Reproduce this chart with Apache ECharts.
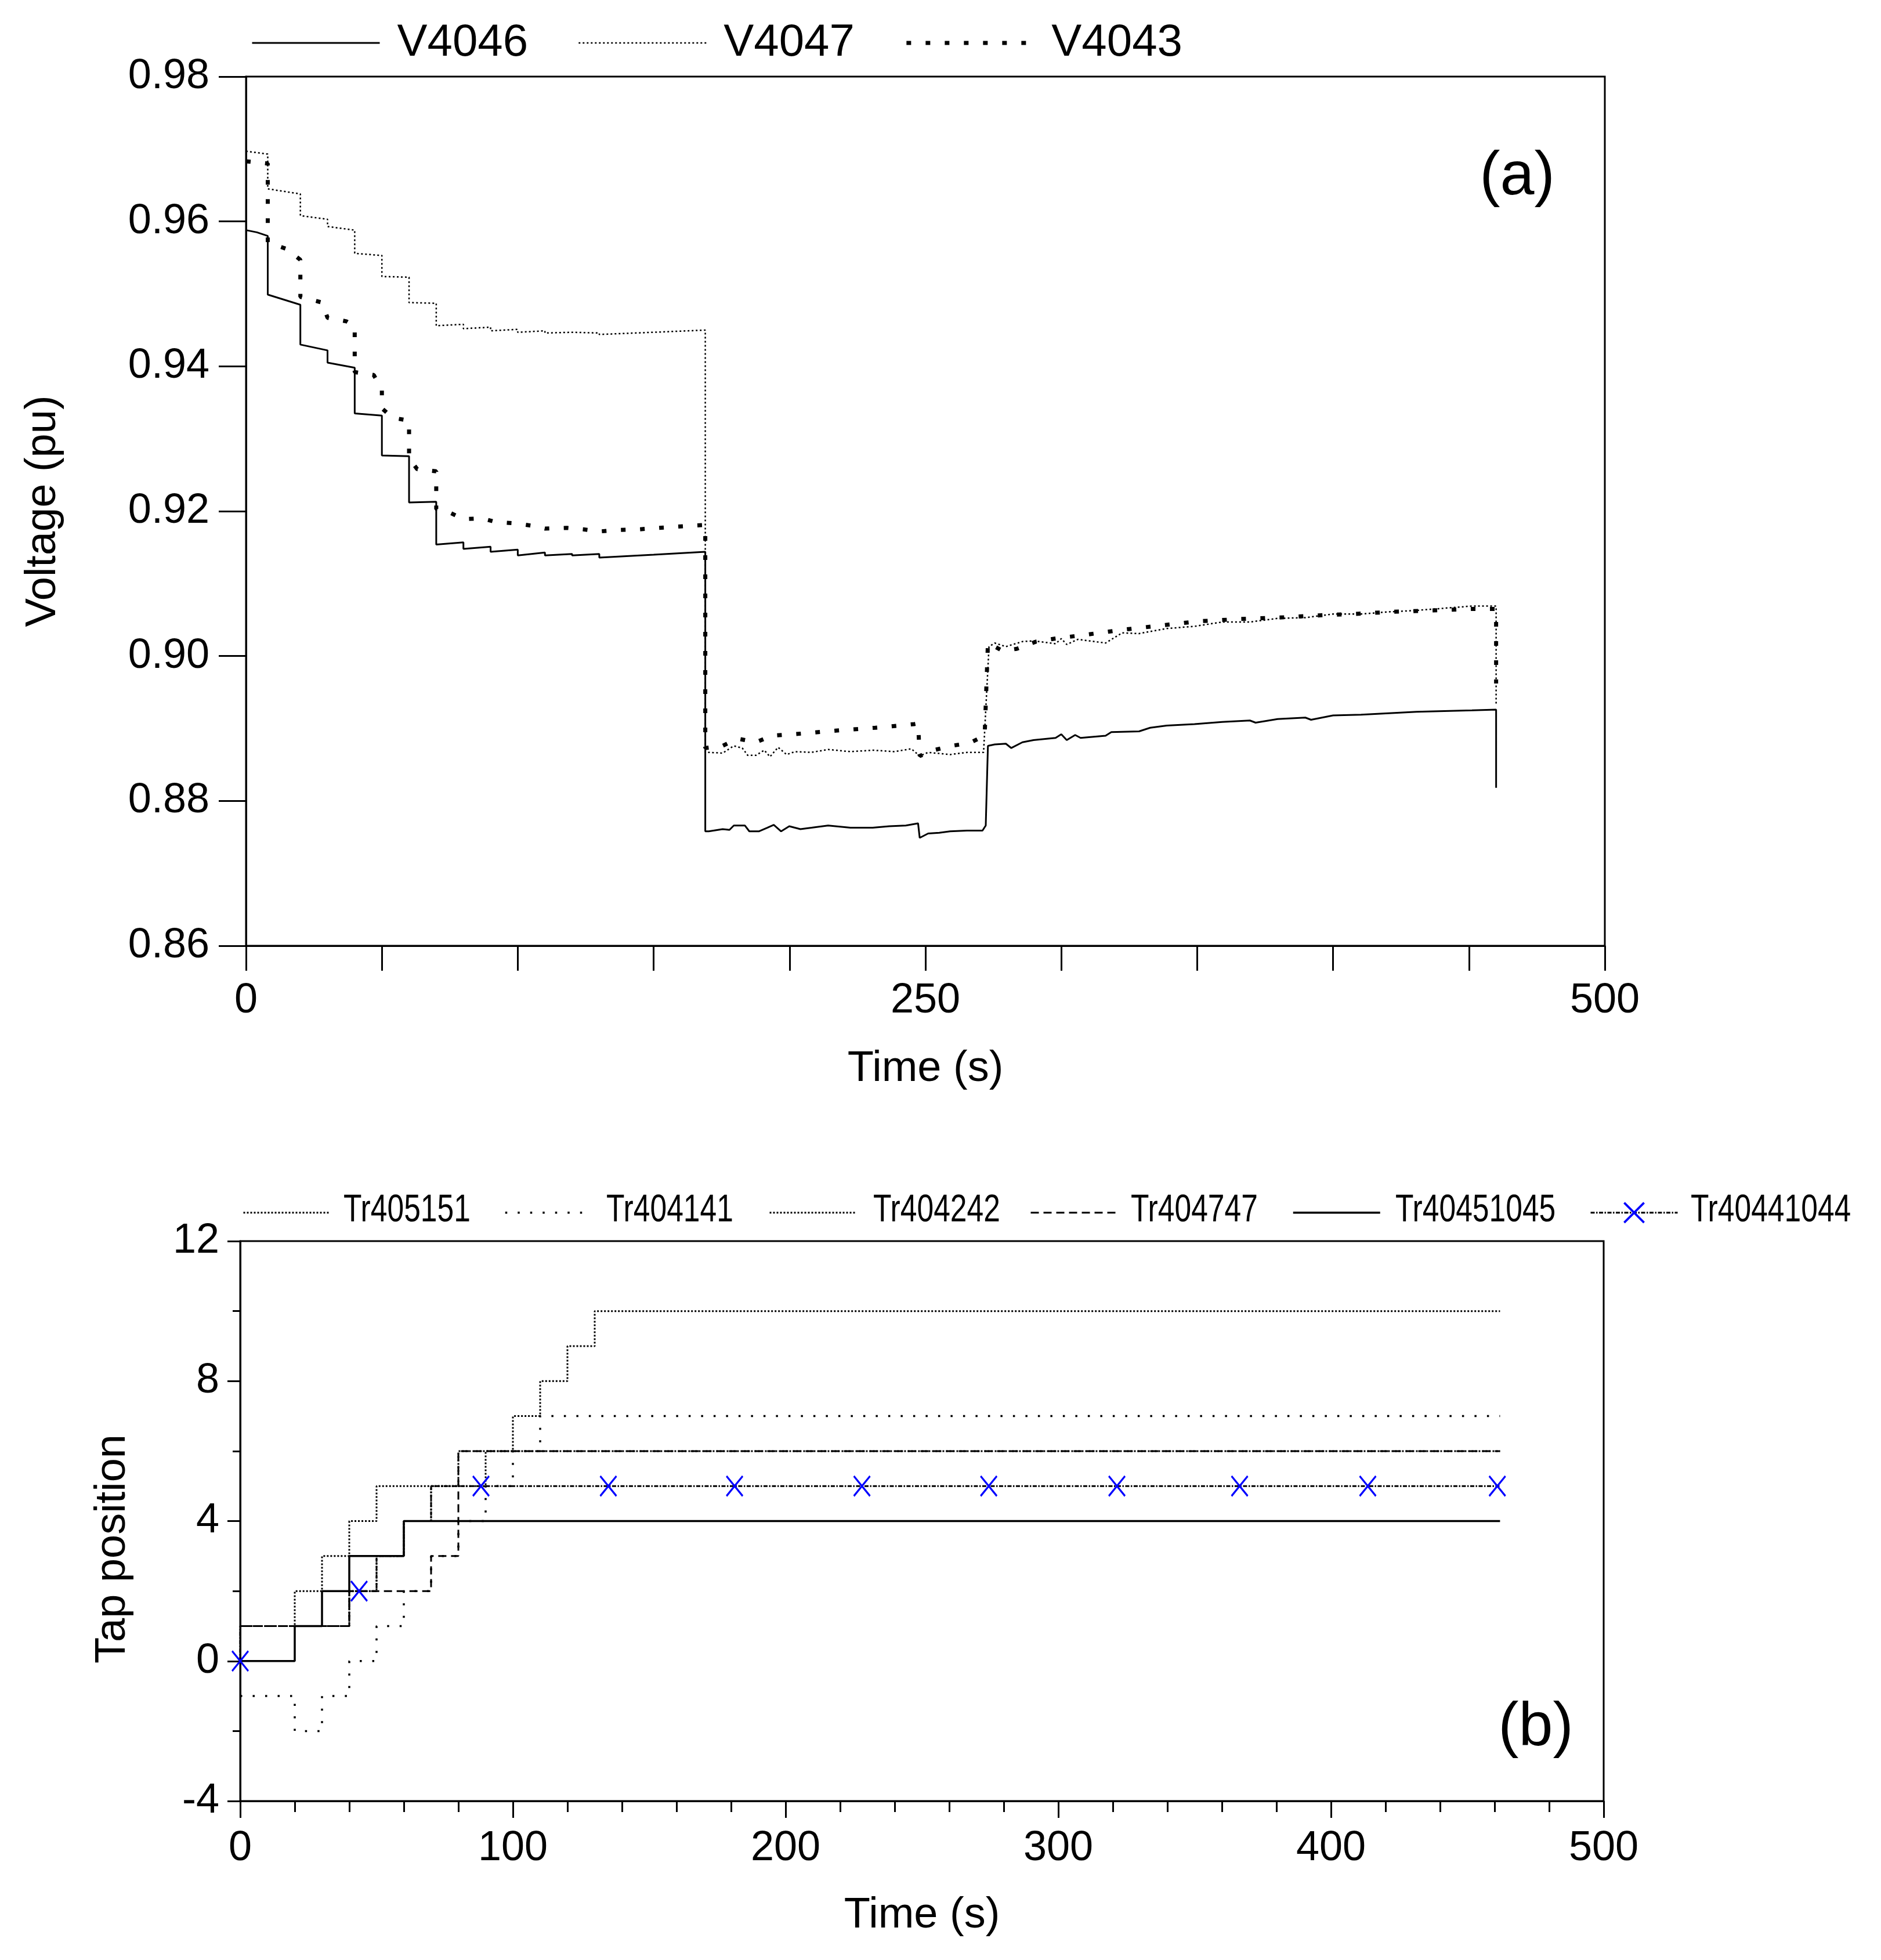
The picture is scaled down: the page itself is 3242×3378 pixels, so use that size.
<!DOCTYPE html>
<html>
<head>
<meta charset="utf-8">
<script src="https://cdn.jsdelivr.net/npm/echarts@6/dist/echarts.min.js"></script>
<style>
  html, body { margin: 0; padding: 0; background: #fff; }
  #chart { width: 3242px; height: 3378px; }
</style>
</head>
<body>
<div id="chart"></div>
<script>
// ---- panel (a): bus voltages, [time s, voltage pu] ----
const v4046 = [[0,0.9588],[4,0.9585],[8,0.9580],[8,0.9499],[20,0.9485],[20,0.9430],[30,0.9422],[30,0.9405],
  [40,0.9398],[40,0.9335],[50,0.9332],[50,0.9277],[60,0.9276],[60,0.9212],[70,0.9213],[70,0.9154],
  [80,0.9157],[80,0.9148],[90,0.9151],[90,0.9144],[100,0.9147],[100,0.9139],[110,0.9143],[110,0.9139],
  [120,0.9141],[120,0.9139],[130,0.9141],[130,0.9136],[150,0.9140],[169,0.9144],[169,0.8758],
  [170.3,0.8758],[175.4,0.8761],[177.9,0.8760],[179.5,0.8766],[183.6,0.8766],[185.2,0.8758],[188.7,0.8758],
  [191.8,0.8763],[194.2,0.8767],[196.9,0.8758],[199.9,0.8765],[204,0.8761],[208.1,0.8763],[214.2,0.8766],
  [222.4,0.8763],[230.6,0.8763],[236.7,0.8765],[242.8,0.8766],[247.3,0.8769],[247.9,0.8749],[251,0.8755],
  [255.1,0.8756],[259.1,0.8758],[265.3,0.8759],[271,0.8759],[272.2,0.8766],[273,0.8876],[275.5,0.8878],
  [279.6,0.8879],[281.6,0.8873],[285.7,0.8881],[289.8,0.8884],[297.9,0.8887],[300,0.8892],[302,0.8884],
  [305.1,0.8891],[307.1,0.8887],[316.3,0.8890],[318.4,0.8895],[328.6,0.8896],[332.7,0.8901],[338.8,0.8904],
  [349,0.8906],[359.2,0.8909],[369.4,0.8911],[371.5,0.8908],[379.6,0.8913],[389.8,0.8915],[391.9,0.8912],
  [400,0.8918],[410.3,0.8919],[420.5,0.8921],[430.7,0.8923],[440.9,0.8924],[451.1,0.8925],[460,0.8926],
  [460,0.8818]];

const v4047 = [[0,0.9697],[8,0.9693],[8,0.9645],[20,0.9638],[20,0.9608],[30,0.9603],[30,0.9593],
  [40,0.9588],[40,0.9556],[50,0.9553],[50,0.9524],[60,0.9523],[60,0.9488],[70,0.9487],[70,0.9456],
  [80,0.9458],[80,0.9452],[90,0.9454],[90,0.9449],[100,0.9451],[100,0.9447],[110,0.9449],[110,0.9446],
  [120,0.9447],[130,0.9446],[130,0.9444],[150,0.9447],[169,0.9450],[169,0.8867],
  [170.3,0.8867],[175.4,0.8866],[179.5,0.8876],[182.6,0.8873],[184.6,0.8863],[187.7,0.8863],[190.7,0.8870],
  [192.8,0.8861],[195.8,0.8874],[198.9,0.8864],[202,0.8868],[208.1,0.8867],[214.2,0.8871],[222.4,0.8868],
  [230.6,0.8870],[238.7,0.8868],[244.8,0.8872],[247.9,0.8862],[251,0.8867],[259.1,0.8864],[265.3,0.8867],
  [271.4,0.8867],[273.4,0.9013],[275.5,0.9018],[279.6,0.9013],[285.7,0.9020],[289.8,0.9021],[297.9,0.9017],
  [300,0.9024],[302,0.9016],[306.1,0.9023],[316.3,0.9018],[322.4,0.9032],[328.6,0.9031],[338.8,0.9038],
  [349,0.9041],[359.2,0.9047],[369.4,0.9047],[379.6,0.9052],[389.8,0.9053],[400,0.9058],[410.3,0.9058],
  [420.5,0.9061],[430.7,0.9063],[440.9,0.9066],[451.1,0.9069],[460,0.9069],[460,0.8934]];

const v4043 = [[0,0.9683],[8,0.9680],[8,0.9571],[15,0.9562],[20,0.9547],[20,0.9496],[28,0.9488],[30,0.9467],
  [37,0.9462],[40,0.9455],[40,0.9392],[47,0.9388],[50,0.9368],[50,0.9342],[54,0.9329],[60,0.9325],
  [60,0.9273],[63,0.9258],[70,0.9255],[70,0.9203],[75,0.9198],[80,0.9189],[87,0.9190],[92,0.9185],
  [100,0.9183],[105,0.9180],[110,0.9176],[118,0.9177],[124,0.9175],[130,0.9172],[137,0.9174],[145,0.9175],
  [152,0.9177],[160,0.9179],[169,0.9181],[169,0.8873],[175.4,0.8876],[180.9,0.8886],[187.7,0.8881],
  [193.4,0.8890],[204.6,0.8893],[216.9,0.8897],[231.6,0.8901],[245.9,0.8906],[247.3,0.8907],[247.9,0.8862],
  [253,0.8870],[259.6,0.8876],[266.3,0.8880],[271.8,0.8890],[273,0.9018],[278.5,0.9007],[283.6,0.9010],
  [290.8,0.9020],[297.5,0.9024],[308.2,0.9029],[322,0.9036],[336.1,0.9042],[350.6,0.9048],[365.3,0.9051],
  [379.6,0.9053],[393.9,0.9056],[407.2,0.9058],[421.5,0.9061],[436.8,0.9063],[451.1,0.9065],[460,0.9065],
  [460,0.8962]];

// ---- panel (b): tap positions, step times and the level held after each ----
const tr405151T = [0, 20, 30, 40, 50, 90, 100, 110, 120, 130, 462];
const tr405151L = [1, 2, 3, 4, 5, 6, 7, 8, 9, 10];
const tr404141T = [0, 20, 30, 40, 50, 60, 70, 80, 90, 100, 110, 462];
const tr404141L = [-1, -2, -1, 0, 1, 2, 3, 4, 5, 6, 7];
const tr404242T = [0, 40, 50, 60, 70, 80, 462];
const tr404242L = [1, 2, 3, 4, 5, 6];
const tr404747T = [0, 40, 70, 80, 462];
const tr404747L = [1, 2, 3, 6];
const tr40451045T = [0, 20, 30, 40, 60, 462];
const tr40451045L = [0, 1, 2, 3, 4];
const tr40441044T = [0, 0, 40, 50, 60, 70, 462];
const tr40441044L = [0, 1, 2, 3, 4, 5];
const tr40441044Marks = [0, 43.6, 88.3, 135, 181.3, 228, 274.5, 321.5, 366.5, 413.5, 461];

const tapNames = ['Tr405151', 'Tr404141', 'Tr404242', 'Tr404747', 'Tr40451045', 'Tr40441044'];

const FONT = "'Liberation Sans', Arial, sans-serif";
const X_MARK = 'path://M0,0.7L0.7,0L10,9.3L9.3,10Z M9.3,0L10,0.7L0.7,10L0,9.3Z';

function stepPoints(T, L) {
  const pts = [];
  for (let i = 0; i < L.length; i++) {
    pts.push([T[i], L[i]]);
    pts.push([T[i + 1], L[i]]);
  }
  return pts;
}

// markers on Tr40441044 only at the sampled instants
const xLine = stepPoints(tr40441044T, tr40441044L).map(p => ({ value: p, symbol: 'none' }));
tr40441044Marks.forEach(m => {
  const hit = xLine.find(p => p.value[0] === m);
  if (hit) { delete hit.symbol; return; }
  const i = xLine.findIndex(p => p.value[0] > m);
  xLine.splice(i, 0, { value: [m, xLine[i].value[1]] });
});

function lineSeries(name, data, axis, width, type, extra) {
  return Object.assign({
    name: name,
    type: 'line',
    xAxisIndex: axis,
    yAxisIndex: axis,
    data: data,
    symbol: 'none',
    showSymbol: false,
    silent: true,
    lineStyle: { color: '#000', width: width, type: type, cap: 'butt' },
    itemStyle: { color: '#000' }
  }, extra || {});
}

const axisTxt = { color: '#000', fontSize: 72, fontFamily: FONT };
const nameTxt = { color: '#000', fontSize: 74, fontFamily: FONT };
const blackLine = { color: '#000', width: 3 };
const hideSym = { opacity: 0 };
const legLine = { width: 'inherit' };

// panel (b) legend: one small legend per entry, labels drawn as condensed text
const tapIconX = [413, 864, 1320, 1770, 2222, 2735];
const tapTextX = [592, 1045, 1505, 1949, 2405, 2914];
const tapLegends = tapNames.map((n, i) => ({
  left: tapIconX[i], top: i === 5 ? 2062 : 2065,
  itemWidth: 150, itemHeight: i === 5 ? 46 : 40,
  formatter: () => '',
  lineStyle: legLine,
  itemStyle: i === 5 ? { color: '#0000ff' } : hideSym,
  textStyle: { fontSize: 10 },
  data: [n]
}));
const tapTexts = tapNames.map((n, i) => ({
  type: 'text', x: tapTextX[i], y: 2087, scaleX: 0.77,
  style: { text: n, fontSize: 67, fontFamily: FONT, fill: '#000', align: 'left', verticalAlign: 'middle' }
}));

const chart = echarts.init(document.getElementById('chart'), null, { renderer: 'canvas' });

chart.setOption({
  animation: false,
  backgroundColor: '#fff',
  textStyle: { fontFamily: FONT },
  grid: [
    { left: 424, top: 132, width: 2342, height: 1498, show: true, borderColor: '#000', borderWidth: 3 },
    { left: 414, top: 2139, width: 2350, height: 965, show: true, borderColor: '#000', borderWidth: 3 }
  ],
  legend: [
    {
      left: 428, top: 30,
      itemWidth: 220, itemHeight: 20, itemGap: 86,
      lineStyle: legLine,
      itemStyle: hideSym,
      textStyle: { fontSize: 78, color: '#000', fontFamily: FONT, padding: [0, 0, 0, 25] },
      data: ['V4046', 'V4047', 'V4043']
    }
  ].concat(tapLegends),
  xAxis: [
    {
      gridIndex: 0, type: 'value', min: 0, max: 500, interval: 50,
      name: 'Time (s)', nameLocation: 'middle', nameGap: 176, nameTextStyle: nameTxt,
      axisLine: { onZero: false, lineStyle: blackLine },
      axisTick: { length: 43, lineStyle: blackLine },
      axisLabel: Object.assign({ margin: 59, formatter: v => (v % 250 === 0 ? String(v) : '') }, axisTxt),
      splitLine: { show: false }
    },
    {
      gridIndex: 1, type: 'value', min: 0, max: 500, interval: 100,
      name: 'Time (s)', nameLocation: 'middle', nameGap: 161, nameTextStyle: nameTxt,
      axisLine: { onZero: false, lineStyle: blackLine },
      axisTick: { length: 29, lineStyle: blackLine },
      minorTick: { show: true, splitNumber: 5, length: 19, lineStyle: blackLine },
      axisLabel: Object.assign({ margin: 46 }, axisTxt),
      splitLine: { show: false }
    }
  ],
  yAxis: [
    {
      gridIndex: 0, type: 'value', min: 0.86, max: 0.98, interval: 0.02,
      name: 'Voltage (pu)', nameLocation: 'middle', nameGap: 312, nameTextStyle: nameTxt,
      axisLine: { onZero: false, lineStyle: blackLine },
      axisTick: { length: 47, lineStyle: blackLine },
      axisLabel: Object.assign({ margin: 63, formatter: v => v.toFixed(2) }, axisTxt),
      splitLine: { show: false }
    },
    {
      gridIndex: 1, type: 'value', min: -4, max: 12, interval: 4,
      name: 'Tap position', nameLocation: 'middle', nameGap: 182,
      nameTextStyle: Object.assign({ padding: [0, 96, 0, 0] }, nameTxt),
      axisLine: { onZero: false, lineStyle: blackLine },
      axisTick: { length: 22, lineStyle: blackLine },
      minorTick: { show: true, splitNumber: 2, length: 13, lineStyle: blackLine },
      axisLabel: Object.assign({ margin: 36 }, axisTxt),
      splitLine: { show: false }
    }
  ],
  graphic: [
    { type: 'text', x: 2615, y: 306, style: { text: '(a)', fontSize: 106, fontFamily: FONT, fill: '#000', align: 'center', verticalAlign: 'middle' } },
    { type: 'text', x: 2647, y: 2979, style: { text: '(b)', fontSize: 106, fontFamily: FONT, fill: '#000', align: 'center', verticalAlign: 'middle' } }
  ].concat(tapTexts),
  series: [
    lineSeries('V4047', v4047, 0, 2.5, [3, 4]),
    lineSeries('V4043', v4043, 0, 7, [8, 25]),
    lineSeries('V4046', v4046, 0, 3, 'solid'),

    lineSeries('Tr405151', stepPoints(tr405151T, tr405151L), 1, 3, [3, 3]),
    lineSeries('Tr404141', stepPoints(tr404141T, tr404141L), 1, 3.5, [3.5, 18]),
    lineSeries('Tr404242', stepPoints(tr404242T, tr404242L), 1, 3, [3, 3]),
    lineSeries('Tr404747', stepPoints(tr404747T, tr404747L), 1, 3, [14, 8]),
    lineSeries('Tr40451045', stepPoints(tr40451045T, tr40451045L), 1, 3.5, 'solid'),
    lineSeries('Tr40441044', xLine, 1, 3, [7, 2.5, 2.5, 2.5], {
      symbol: X_MARK, symbolSize: [30, 37], showSymbol: true, showAllSymbol: true,
      itemStyle: { color: '#0000ff' }
    })
  ]
});
</script>
</body>
</html>
